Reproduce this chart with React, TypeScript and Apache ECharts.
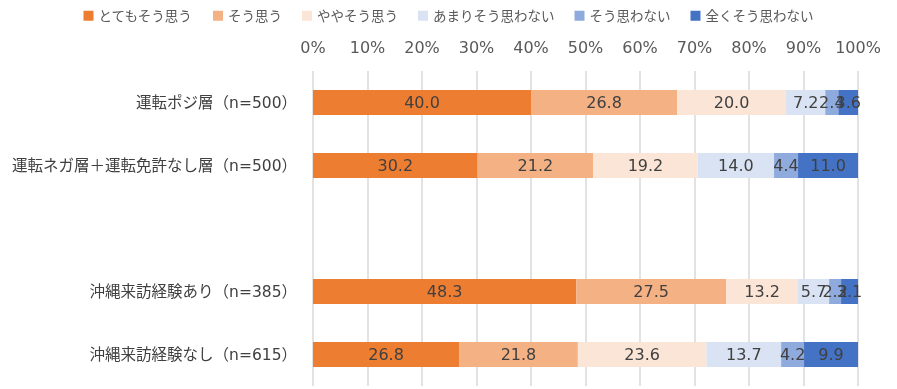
import React, { useEffect, useRef } from "react";
import * as echarts from "echarts";

const categories = [
  "運転ポジ層（n=500）",
  "運転ネガ層＋運転免許なし層（n=500）",
  "",
  "沖縄来訪経験あり（n=385）",
  "沖縄来訪経験なし（n=615）",
];

const seriesNames = [
  "とてもそう思う",
  "そう思う",
  "ややそう思う",
  "あまりそう思わない",
  "そう思わない",
  "全くそう思わない",
];

const colors = ["#ED7D31", "#F4B183", "#FBE5D6", "#DAE3F3", "#8FAADC", "#4472C4"];

const veryMuch = [40.0, 30.2, null, 48.3, 26.8];
const agree = [26.8, 21.2, null, 27.5, 21.8];
const somewhat = [20.0, 19.2, null, 13.2, 23.6];
const notMuch = [7.2, 14.0, null, 5.7, 13.7];
const disagree = [2.4, 4.4, null, 2.2, 4.2];
const notAtAll = [3.6, 11.0, null, 3.1, 9.9];

const seriesValues = [veryMuch, agree, somewhat, notMuch, disagree, notAtAll];

const xTicks = [0, 10, 20, 30, 40, 50, 60, 70, 80, 90, 100];

const FONT = "'DejaVu Sans', 'Noto Sans CJK JP', sans-serif";

export default function App() {
  const ref = useRef<HTMLDivElement>(null);
  useEffect(() => {
    if (!ref.current) return;
    const chart = echarts.init(ref.current, undefined, { renderer: "svg" });
    chart.setOption({
      animation: false,
      color: colors,
      textStyle: { fontFamily: FONT },
      legend: {
        top: 4,
        left: "center",
        itemWidth: 10,
        itemHeight: 10,
        itemGap: 20,
        icon: "rect",
        textStyle: { color: "#595959", fontSize: 13.5, fontFamily: FONT },
        data: seriesNames,
      },
      grid: { left: 313, right: 39, top: 71, height: 315, containLabel: false },
      xAxis: {
        type: "value",
        position: "top",
        min: 0,
        max: 100,
        interval: 10,
        axisLine: { show: false },
        axisTick: { show: false },
        axisLabel: {
          color: "#595959",
          fontSize: 16,
          fontFamily: FONT,
          margin: 16,
          formatter: (v: number) => (xTicks.includes(v) ? v + "%" : ""),
        },
        splitLine: { lineStyle: { color: "#D9D9D9", width: 1.5 } },
      },
      yAxis: {
        type: "category",
        inverse: true,
        data: categories,
        axisLine: { show: false },
        axisTick: { show: false },
        axisLabel: { color: "#404040", fontSize: 15.5, fontFamily: FONT, margin: 16 },
      },
      series: seriesNames.map((name, i) => ({
        name,
        type: "bar",
        stack: "total",
        barWidth: 25,
        data: seriesValues[i].map((v) => (v === null ? "-" : v)),
        itemStyle: { color: colors[i] },
        label: {
          show: true,
          position: "inside",
          color: "#404040",
          fontSize: 16,
          fontFamily: FONT,
          formatter: (p: any) => Number(p.value).toFixed(1),
        },
      })),
    });
    return () => chart.dispose();
  }, []);
  return (
    <div
      ref={ref}
      style={{ position: "fixed", left: 0, top: 0, width: 897, height: 389 }}
    />
  );
}
